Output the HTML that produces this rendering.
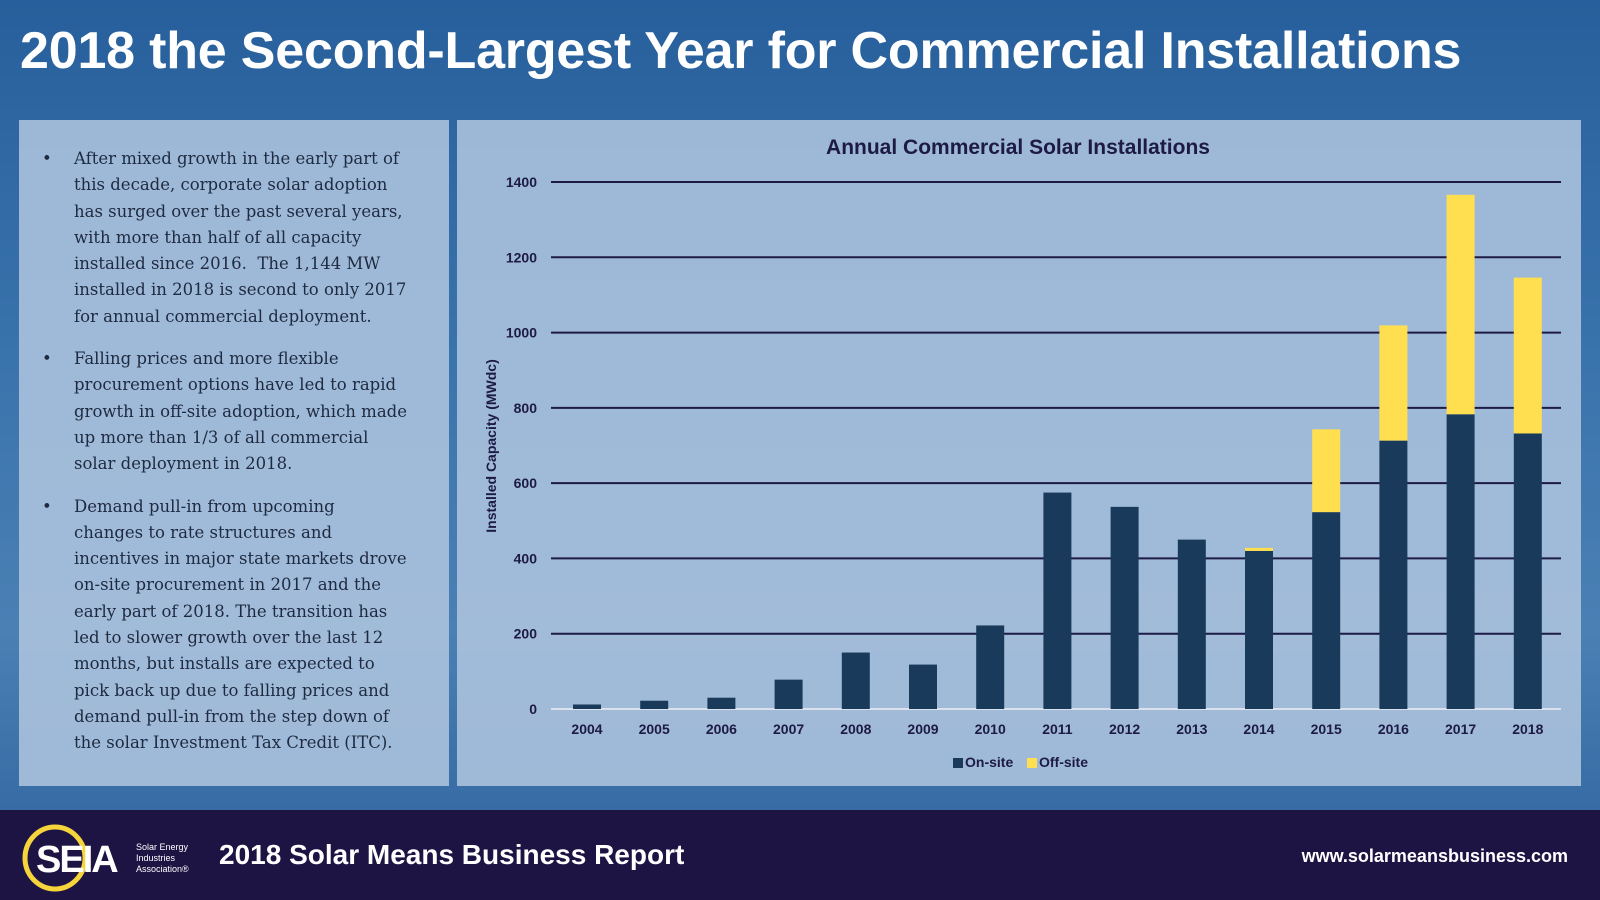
<!DOCTYPE html>
<html><head><meta charset="utf-8"><style>
*{margin:0;padding:0;box-sizing:border-box}
body{width:1600px;height:900px;overflow:hidden;font-family:"Liberation Sans",sans-serif;background:linear-gradient(180deg,#275f9c 0%,#3a74ac 40%,#4a80b4 70%,#2d629c 100%);position:relative}
#title{position:absolute;left:20px;top:21px;color:#fff;font-size:52px;font-weight:bold;letter-spacing:-0.2px;white-space:nowrap}
#left{position:absolute;left:19px;top:120px;width:430px;height:666px;background:rgba(173,196,222,0.88)}
#left ul{list-style:none;padding:26px 0 0 0}
#left li{position:relative;padding-left:55px;font-family:"DejaVu Serif","Liberation Serif",serif;font-size:16.5px;line-height:26.3px;color:#1e2a40;margin-bottom:16px;white-space:nowrap}
#left li:before{content:"•";position:absolute;left:23px;top:0}
#chart{position:absolute;left:457px;top:120px;width:1124px;height:666px;background:rgba(173,196,222,0.88)}
#footer{position:absolute;left:0;top:810px;width:1600px;height:90px;background:#1d1444}
#ftitle{position:absolute;left:219px;top:29px;color:#fff;font-size:28px;font-weight:bold}
#url{position:absolute;right:32px;top:36px;color:#fff;font-size:18px;font-weight:bold}
</style></head><body>
<div id="title">2018 the Second-Largest Year for Commercial Installations</div>
<div id="left"><ul>
<li>After mixed growth in the early part of<br>this decade, corporate solar adoption<br>has surged over the past several years,<br>with more than half of all capacity<br>installed since 2016.&nbsp; The 1,144 MW<br>installed in 2018 is second to only 2017<br>for annual commercial deployment.</li>
<li>Falling prices and more flexible<br>procurement options have led to rapid<br>growth in off-site adoption, which made<br>up more than 1/3 of all commercial<br>solar deployment in 2018.</li>
<li>Demand pull-in from upcoming<br>changes to rate structures and<br>incentives in major state markets drove<br>on-site procurement in 2017 and the<br>early part of 2018. The transition has<br>led to slower growth over the last 12<br>months, but installs are expected to<br>pick back up due to falling prices and<br>demand pull-in from the step down of<br>the solar Investment Tax Credit (ITC).</li>
</ul></div>
<div id="chart"></div>
<svg id="svg" width="1600" height="900" style="position:absolute;left:0;top:0">
<text x="1018" y="154" text-anchor="middle" font-size="21" font-weight="bold" fill="#1d1a45">Annual Commercial Solar Installations</text>
<text transform="translate(496,446) rotate(-90)" text-anchor="middle" font-size="14" font-weight="bold" fill="#1d1a45">Installed Capacity (MWdc)</text>
<g id="grid"></g><g id="bars"></g><g id="xl"></g>
<rect x="953" y="758" width="10" height="10" fill="#1a3a5c"/>
<text x="965" y="767" font-size="14" font-weight="bold" fill="#1d1a45">On-site</text>
<rect x="1027" y="758" width="10" height="10" fill="#ffdf4f"/>
<text x="1039" y="767" font-size="14" font-weight="bold" fill="#1d1a45">Off-site</text>
</svg>
<div id="footer">
<svg width="200" height="90" style="position:absolute;left:0;top:0">
<ellipse cx="55" cy="48" rx="30" ry="31" fill="none" stroke="#f5d43c" stroke-width="5"/>
<text x="36" y="62" font-size="38" font-weight="bold" fill="#fff" letter-spacing="-2">SEIA</text>
<text x="136" y="40" font-size="9" fill="#fff">Solar Energy</text>
<text x="136" y="51" font-size="9" fill="#fff">Industries</text>
<text x="136" y="62" font-size="9" fill="#fff">Association®</text>
</svg>
<div id="ftitle">2018 Solar Means Business Report</div>
<div id="url">www.solarmeansbusiness.com</div>
</div>
<script>
const years=["2004","2005","2006","2007","2008","2009","2010","2011","2012","2013","2014","2015","2016","2017","2018"];
const onsite=[12,22,30,78,150,118,222,575,537,450,420,523,713,783,732];
const offsite=[0,0,0,0,0,0,0,0,0,0,8,220,306,583,414];
const yTicks=[0,200,400,600,800,1000,1200,1400];
const NS="http://www.w3.org/2000/svg";
const y0=709,yTop=182,yMax=1400,xL=551,xR=1561,x0=587,step=67.2,bw=28;
const Y=v=>y0-(v/yMax)*(y0-yTop);
const X=i=>x0+i*step;
const grid=document.getElementById('grid'),bars=document.getElementById('bars'),xl=document.getElementById('xl');
function mk(t,a,p){const e=document.createElementNS(NS,t);for(const k in a)e.setAttribute(k,a[k]);p.appendChild(e);return e;}
yTicks.forEach(v=>{
 if(v>0){const l=mk('line',{x1:xL,x2:xR,y1:Y(v),y2:Y(v),stroke:'#1d1a45','stroke-width':2},grid);
 
 }
 const t=mk('text',{x:537,y:Y(v)+5,'text-anchor':'end','font-size':14,'font-weight':'bold',fill:'#1d1a45'},grid);t.textContent=v;
 
 
});
const ax=mk('line',{x1:xL,x2:xR,y1:y0,y2:y0,stroke:'#d9e2ec','stroke-width':2},grid);


years.forEach((yr,i)=>{
 const a=mk('rect',{x:X(i)-bw/2,y:Y(onsite[i]),width:bw,height:y0-Y(onsite[i]),fill:'#1a3a5c'},bars);
 
 
 if(offsite[i]>0){const b=mk('rect',{x:X(i)-bw/2,y:Y(onsite[i]+offsite[i]),width:bw,height:Y(onsite[i])-Y(onsite[i]+offsite[i]),fill:'#ffdf4f'},bars);
 
 }
 const t=mk('text',{x:X(i),y:734,'text-anchor':'middle','font-size':14,'font-weight':'bold',fill:'#1d1a45'},xl);t.textContent=yr;
 
 
});
</script>
</body></html>
